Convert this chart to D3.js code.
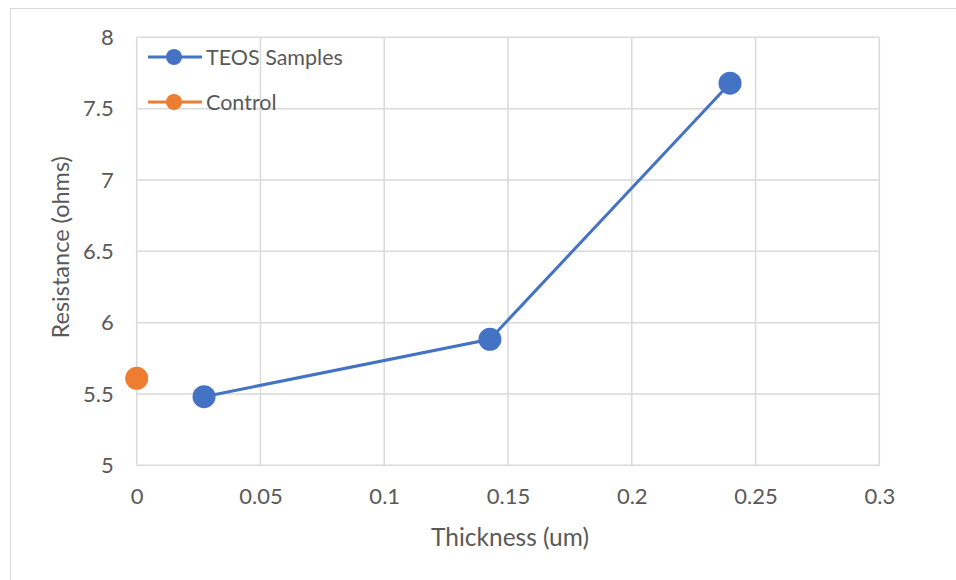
<!DOCTYPE html>
<html><head><meta charset="utf-8">
<script src="https://cdn.jsdelivr.net/npm/d3@7"></script>
<style>body{margin:0;background:#fff;}text{font-family:Lato,"Open Sans",sans-serif;fill:#595959;}</style>
</head><body>
<svg id="chart" width="956" height="580"></svg>
<script>
const teosX = [0.0272, 0.1427, 0.2397];
const teosY = [5.481, 5.883, 7.678];
const controlX = [0];
const controlY = [5.61];
const xTicks = [0, 0.05, 0.1, 0.15, 0.2, 0.25, 0.3];
const yTicks = [5, 5.5, 6, 6.5, 7, 7.5, 8];
const seriesNames = ["TEOS Samples", "Control"];
const colors = ["#4472c4", "#ed7d31"];

const svg = d3.select("#chart");
svg.append("rect").attr("x",10.5).attr("y",8.5).attr("width",960).attr("height",600)
  .attr("fill","#fff").attr("stroke","#d9d9d9").attr("stroke-width",1);

const L=136.7, R=879.3, T=37.3, B=465.3;
const x = d3.scaleLinear().domain([0,0.3]).range([L,R]);
const y = d3.scaleLinear().domain([5,8]).range([B,T]);

const grid = svg.append("g");
grid.selectAll(".gx").data(xTicks).join("line")
  .attr("x1",d=>x(d)).attr("x2",d=>x(d)).attr("y1",T).attr("y2",B)
  .attr("stroke","#d9d9d9").attr("stroke-width",1.5);
grid.selectAll(".gy").data(yTicks).join("line")
  .attr("x1",L).attr("x2",R).attr("y1",d=>y(d)).attr("y2",d=>y(d))
  .attr("stroke","#d9d9d9").attr("stroke-width",1.5);

const xAxis = svg.append("g").attr("transform",`translate(0,${B})`)
  .call(d3.axisBottom(x).tickValues(xTicks).tickSize(0).tickPadding(23).tickFormat(d=>String(d)));
xAxis.select(".domain").remove();
xAxis.selectAll("text").style("font-size","22px").attr("fill","#595959");

const yAxis = svg.append("g").attr("transform",`translate(${L},0)`)
  .call(d3.axisLeft(y).tickValues(yTicks).tickSize(0).tickPadding(23).tickFormat(d=>String(d)));
yAxis.select(".domain").remove();
yAxis.selectAll("text").style("font-size","22px").attr("fill","#595959");

svg.append("text").attr("x",(L+R)/2+2).attr("y",546).attr("text-anchor","middle")
  .style("font-size","24.5px").text("Thickness (um)");
svg.append("text").attr("transform",`translate(69,${(T+B)/2-4}) rotate(-90)`).attr("text-anchor","middle")
  .style("font-size","23.5px").text("Resistance (ohms)");

const teos = teosX.map((v,i)=>({x:v,y:teosY[i]}));
const ctrl = controlX.map((v,i)=>({x:v,y:controlY[i]}));

svg.append("path").datum(teos)
  .attr("d",d3.line().x(d=>x(d.x)).y(d=>y(d.y)))
  .attr("fill","none").attr("stroke",colors[0]).attr("stroke-width",3);
svg.selectAll(".pt").data(teos).join("circle")
  .attr("cx",d=>x(d.x)).attr("cy",d=>y(d.y)).attr("r",11.5).attr("fill",colors[0]);
svg.selectAll(".pc").data(ctrl).join("circle")
  .attr("cx",d=>x(d.x)).attr("cy",d=>y(d.y)).attr("r",11.5).attr("fill",colors[1]);

const leg = svg.append("g");
seriesNames.forEach((n,i)=>{
  const ly = 57 + i*45;
  leg.append("line").attr("x1",148).attr("x2",202).attr("y1",ly).attr("y2",ly)
    .attr("stroke",colors[i]).attr("stroke-width",3);
  leg.append("circle").attr("cx",174).attr("cy",ly).attr("r",8).attr("fill",colors[i]);
  leg.append("text").attr("x",206).attr("y",ly+8).style("font-size","21.5px").text(n);
});
</script>
</body></html>
